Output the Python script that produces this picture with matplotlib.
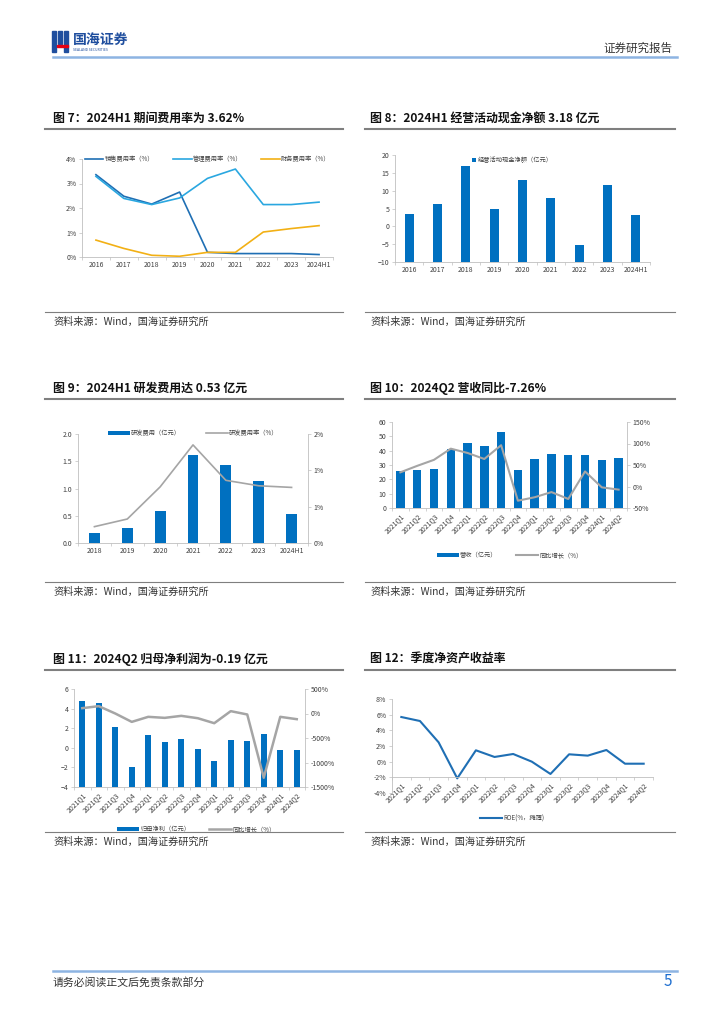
import matplotlib
matplotlib.use("Agg")
import matplotlib.pyplot as plt
from matplotlib.patches import Rectangle
from matplotlib.lines import Line2D
from matplotlib.ticker import FixedLocator, FuncFormatter

plt.rcParams['font.family'] = ['Noto Sans CJK SC', 'DejaVu Sans']

# ---- data ----
years7 = ["2016", "2017", "2018", "2019", "2020", "2021", "2022", "2023", "2024H1"]
sales_rate = [3.36, 2.48, 2.16, 2.65, 0.19, 0.14, 0.14, 0.14, 0.10]
admin_rate = [3.29, 2.39, 2.14, 2.41, 3.21, 3.59, 2.14, 2.14, 2.24]
fin_rate = [0.69, 0.35, 0.07, 0.03, 0.19, 0.19, 1.02, 1.16, 1.28]

cash_flow = [3.45, 6.15, 16.85, 4.84, 13.1, 8.0, -5.2, 11.45, 3.18]

years9 = ["2018", "2019", "2020", "2021", "2022", "2023", "2024H1"]
rd_cost = [0.18, 0.27, 0.58, 1.61, 1.44, 1.14, 0.53]
rd_rate = [0.30, 0.44, 1.03, 1.80, 1.15, 1.05, 1.02]

quarters = ["2021Q1", "2021Q2", "2021Q3", "2021Q4", "2022Q1", "2022Q2", "2022Q3",
            "2022Q4", "2023Q1", "2023Q2", "2023Q3", "2023Q4", "2024Q1", "2024Q2"]
revenue = [25.9, 26.4, 27.1, 41.2, 45.4, 43.1, 53.0, 26.6, 34.3, 37.7, 37.0, 36.8, 33.8, 34.7]
revenue_yoy = [33, 48, 62, 88, 78, 64, 96, -33, -25, -13, -29, 35, -2, -7.26]

net_profit = [4.78, 4.54, 2.12, -1.98, 1.30, 0.58, 0.89, -0.10, -1.33, 0.78, 0.72, 1.37, -0.25, -0.19]
profit_yoy = [109, 150, 0, -171, -68, -89, -48, -96, -198, 48, -20, -1311, -68, -116]

roe = [5.70, 5.19, 2.47, -2.13, 1.45, 0.60, 0.98, 0.0, -1.57, 0.94, 0.77, 1.49, -0.26, -0.26]

BLUE = "#0070C0"
GRAY = "#A5A5A5"
AX = "#BFBFBF"
TXT = "#404040"

fig = plt.figure(figsize=(7.24, 10.24), dpi=100)


def fx(x):
    return x / 724


def fy(y):
    return 1 - y / 1024


def add_ax(x0, y0, x1, y1):
    return fig.add_axes([fx(x0), fy(y1), fx(x1) - fx(x0), (y1 - y0) / 1024])


def style(ax, n):
    for s in ["top", "right"]:
        ax.spines[s].set_visible(False)
    ax.spines["left"].set_color(AX)
    ax.spines["bottom"].set_color(AX)
    ax.spines["left"].set_linewidth(0.6)
    ax.spines["bottom"].set_linewidth(0.6)
    ax.set_xlim(-0.5, n - 0.5)
    ax.set_xticks(range(n))
    ax.xaxis.set_minor_locator(FixedLocator([i - 0.5 for i in range(n + 1)]))
    ax.tick_params(axis="x", which="major", length=0, labelsize=5, colors=TXT, pad=3)
    ax.tick_params(axis="x", which="minor", length=2, width=0.5, color=AX)
    ax.tick_params(axis="y", length=2, width=0.5, color=AX, labelsize=5, colors=TXT, pad=2)


def style_right(axr):
    for s in ["top", "left", "bottom"]:
        axr.spines[s].set_visible(False)
    axr.spines["right"].set_color(AX)
    axr.spines["right"].set_linewidth(0.6)
    axr.tick_params(axis="y", length=2, width=0.5, color=AX, labelsize=5, colors=TXT, pad=2)


def line(x0, x1, y, color, lw):
    fig.add_artist(Line2D([fx(x0), fx(x1)], [fy(y), fy(y)], color=color, lw=lw))


# ---- header / footer ----
fig.add_artist(Rectangle((fx(52), fy(52)), fx(4), 21 / 1024, color="#1F4E9E"))
fig.add_artist(Rectangle((fx(58), fy(44)), fx(4), 13 / 1024, color="#1F4E9E"))
fig.add_artist(Rectangle((fx(64), fy(52)), fx(4), 21 / 1024, color="#1F4E9E"))
fig.add_artist(Rectangle((fx(57), fy(47)), fx(11), 2 / 1024, color="#E60012"))
fig.text(fx(73), fy(40), "国海证券", fontsize=10, fontweight="bold", color="#1F4E9E", va="center")
fig.text(fx(73), fy(50), "SEALAND SECURITIES", fontsize=2.5, color="#1F4E9E", va="center")
fig.text(fx(672), fy(48), "证券研究报告", fontsize=8.3, color="#333333", ha="right", va="center")
line(53, 677, 57, "#8DB4E2", 1.8)
line(53, 677, 971, "#8DB4E2", 1.8)
fig.text(fx(53), fy(982), "请务必阅读正文后免责条款部分", fontsize=7.8, color="#333333", va="center")
fig.text(fx(672), fy(981), "5", fontsize=11, color="#1F6FD0", ha="right", va="center")

titles = [
    ("图 7：2024H1 期间费用率为 3.62%", "图 8：2024H1 经营活动现金净额 3.18 亿元"),
    ("图 9：2024H1 研发费用达 0.53 亿元", "图 10：2024Q2 营收同比-7.26%"),
    ("图 11：2024Q2 归母净利润为-0.19 亿元", "图 12：季度净资产收益率"),
]
title_y = [118, 388, 659]
source_y = [322, 592, 842]
for (t1, t2), ty, sy in zip(titles, title_y, source_y):
    fig.text(fx(53), fy(ty), t1, fontsize=8.6, fontweight="bold", color="#111111", va="center")
    fig.text(fx(370), fy(ty), t2, fontsize=8.6, fontweight="bold", color="#111111", va="center")
    line(45, 343, ty + 11, "#7F7F7F", 1.5)
    line(365, 675, ty + 11, "#7F7F7F", 1.5)
    line(45, 343, sy - 10, "#7F7F7F", 0.8)
    line(365, 675, sy - 10, "#7F7F7F", 0.8)
    fig.text(fx(53), fy(sy), "资料来源：Wind，国海证券研究所", fontsize=7.3, color="#333333", va="center")
    fig.text(fx(370), fy(sy), "资料来源：Wind，国海证券研究所", fontsize=7.3, color="#333333", va="center")

pct = FuncFormatter(lambda v, p: f"{v:.0f}%")

# ---- chart 7 ----
ax7 = add_ax(82, 159, 333, 257)
style(ax7, len(years7))
x7 = range(len(years7))
ax7.plot(x7, sales_rate, color="#1F6FB4", lw=1.2, label="销售费用率（%）")
ax7.plot(x7, admin_rate, color="#2AA7E0", lw=1.2, label="管理费用率（%）")
ax7.plot(x7, fin_rate, color="#F2B015", lw=1.2, label="财务费用率（%）")
ax7.set_ylim(0, 4)
ax7.set_yticks([0, 1, 2, 3, 4])
ax7.yaxis.set_major_formatter(pct)
ax7.set_xticklabels(years7)
ax7.legend(loc="center", bbox_to_anchor=(0.5, 1.0), ncol=3, frameon=False, fontsize=4.5,
           handlelength=3, columnspacing=3, handletextpad=0.2, labelcolor=TXT)

# ---- chart 8 ----
ax8 = add_ax(395, 155, 650, 262)
style(ax8, len(years7))
ax8.bar(range(len(years7)), [v + 10 for v in cash_flow], bottom=-10, width=0.32, color=BLUE,
        label="经营活动现金净额（亿元）")
ax8.set_ylim(-10, 20)
ax8.set_yticks(range(-10, 21, 5))
ax8.set_xticklabels(years7)
ax8.legend(loc="center", bbox_to_anchor=(0.46, 0.95), frameon=False, fontsize=4.5,
           handlelength=0.7, handleheight=0.7, handletextpad=0.3, labelcolor=TXT)

# ---- chart 9 ----
ax9 = add_ax(78, 434, 308, 543)
style(ax9, len(years9))
ax9.bar(range(len(years9)), rd_cost, width=0.33, color=BLUE, label="研发费用（亿元）")
ax9.set_ylim(0, 2)
ax9.set_yticks([0, 0.5, 1.0, 1.5, 2.0])
ax9.yaxis.set_major_formatter(FuncFormatter(lambda v, p: f"{v:.1f}"))
ax9.set_xticklabels(years9)
ax9r = ax9.twinx()
ax9r.plot(range(len(years9)), rd_rate, color=GRAY, lw=1.2, label="研发费用率（%）")
ax9r.set_ylim(0, 2)
ax9r.set_yticks([0, 2 / 3, 4 / 3, 2])
ax9r.yaxis.set_major_formatter(pct)
style_right(ax9r)
h1, l1 = ax9.get_legend_handles_labels()
h2, l2 = ax9r.get_legend_handles_labels()
ax9.legend(h1 + h2, l1 + l2, loc="center", bbox_to_anchor=(0.5, 1.01), ncol=2, frameon=False,
           fontsize=4.5, handlelength=3.5, handleheight=0.6, columnspacing=4, handletextpad=0.2,
           labelcolor=TXT)

# ---- chart 10 ----
ax10 = add_ax(392, 422, 627, 508)
style(ax10, len(quarters))
xq = range(len(quarters))
ax10.bar(xq, revenue, width=0.5, color=BLUE, label="营收（亿元）")
ax10.set_ylim(0, 60)
ax10.set_yticks(range(0, 61, 10))
ax10.set_xticklabels(quarters, rotation=45, ha="right", rotation_mode="anchor")
ax10r = ax10.twinx()
ax10r.plot(xq, revenue_yoy, color=GRAY, lw=1.5, label="同比增长（%）")
ax10r.set_ylim(-50, 150)
ax10r.set_yticks(range(-50, 151, 50))
ax10r.yaxis.set_major_formatter(pct)
style_right(ax10r)
h1, l1 = ax10.get_legend_handles_labels()
h2, l2 = ax10r.get_legend_handles_labels()
ax10.legend(h1 + h2, l1 + l2, loc="center", bbox_to_anchor=(0.5, -0.55), ncol=2, frameon=False,
            fontsize=4.5, handlelength=3.5, handleheight=0.6, columnspacing=3, handletextpad=0.2,
            labelcolor=TXT)

# ---- chart 11 ----
ax11 = add_ax(74, 689, 305, 787)
style(ax11, len(quarters))
ax11.bar(xq, [v + 4 for v in net_profit], bottom=-4, width=0.37, color=BLUE, label="归母净利（亿元）")
ax11.set_ylim(-4, 6)
ax11.set_yticks(range(-4, 7, 2))
ax11.set_xticklabels(quarters, rotation=45, ha="right", rotation_mode="anchor")
ax11r = ax11.twinx()
ax11r.plot(xq, profit_yoy, color=GRAY, lw=1.8, label="同比增长（%）")
ax11r.set_ylim(-1500, 500)
ax11r.set_yticks(range(-1500, 501, 500))
ax11r.yaxis.set_major_formatter(pct)
style_right(ax11r)
h1, l1 = ax11.get_legend_handles_labels()
h2, l2 = ax11r.get_legend_handles_labels()
ax11.legend(h1 + h2, l1 + l2, loc="center", bbox_to_anchor=(0.53, -0.43), ncol=2, frameon=False,
            fontsize=4.5, handlelength=3.5, handleheight=0.6, columnspacing=3, handletextpad=0.2,
            labelcolor=TXT)

# ---- chart 12 ----
ax12 = add_ax(392, 699, 653, 793)
style(ax12, len(quarters))
ax12.plot(xq, roe, color="#1F6FB4", lw=1.5, label="ROE(%，摊薄)")
ax12.set_ylim(-4, 8)
ax12.set_yticks(range(-4, 9, 2))
ax12.yaxis.set_major_formatter(pct)
ax12.spines["bottom"].set_position(("data", -2))
ax12.set_xticklabels(quarters, rotation=45, ha="right", rotation_mode="anchor")
ax12.legend(loc="center", bbox_to_anchor=(0.46, -0.27), frameon=False, fontsize=4.5,
            handlelength=3.5, handletextpad=0.2, labelcolor=TXT)

fig.savefig("out.png", dpi=100)
